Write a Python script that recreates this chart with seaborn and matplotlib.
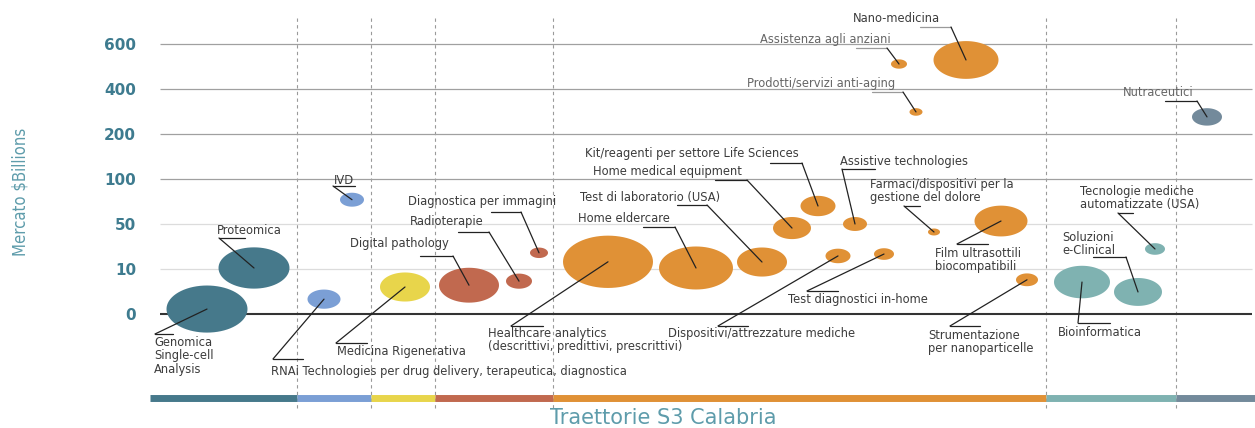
import numpy as np
import pandas as pd
import matplotlib
matplotlib.use("Agg")
import matplotlib.pyplot as plt
import matplotlib.transforms as mtransforms
from matplotlib.path import Path
from matplotlib.lines import Line2D
import seaborn as sns

# ---------------- data ----------------
nomi = ["Genomica", "Proteomica", "IVD", "RNAi", "Medicina Rigenerativa",
        "Digital pathology", "Radioterapie", "Diagnostica per immagini",
        "Healthcare analytics", "Home eldercare", "Test di laboratorio (USA)",
        "Home medical equipment", "Kit/reagenti", "Assistive technologies",
        "Farmaci/dispositivi dolore", "Film ultrasottili", "Dispositivi/attrezzature",
        "Test diagnostici in-home", "Strumentazione nanoparticelle", "Bioinformatica",
        "Soluzioni e-Clinical", "Tecnologie mediche automatizzate", "Nano-medicina",
        "Assistenza agli anziani", "Prodotti/servizi anti-aging", "Nutraceutici"]
posizione = [5.7, 10.4, 20.2, 17.4, 25.5, 31.9, 36.9, 38.9, 45.8, 54.6, 61.2, 64.2,
             66.8, 70.5, 78.4, 85.1, 68.8, 73.4, 87.7, 93.2, 98.8, 100.5, 81.6, 74.9,
             76.6, 105.7]
mercato = [1.1, 10.9, 77, 3.3, 6.0, 6.4, 7.3, 24.4, 16.4, 10.9, 16.2, 46.4, 70, 50,
           42.9, 53.3, 21.6, 23.3, 7.6, 7.1, 4.9, 27.8, 529, 511, 298, 276]
peso = [81, 71, 24, 33, 50, 60, 26, 18, 90, 74, 50, 38, 35, 24, 12, 53, 25, 20, 22,
        56, 48, 20, 65, 16, 13, 30]
traiettoria = ["T1", "T1", "T2", "T2", "T3", "T4", "T4", "T4", "T5", "T5", "T5", "T5",
               "T5", "T5", "T5", "T5", "T5", "T5", "T5", "T6", "T6", "T6", "T5", "T5",
               "T5", "T7"]

tick_valori = [0, 10, 50, 100, 200, 400, 600]
tick_etichette = ["0", "10", "50", "100", "200", "400", "600"]
traiettorie = ["T1", "T2", "T3", "T4", "T5", "T6", "T7"]
confini = [0, 14.7, 22.1, 28.5, 40.3, 89.6, 102.6, 110.5]
colori = {"T1": "#46798b", "T2": "#7b9fd5", "T3": "#e8d54b", "T4": "#c1694f",
          "T5": "#e09136", "T6": "#7fb2b1", "T7": "#738a9b"}

etichette = ["Genomica\nSingle-cell\nAnalysis", "Proteomica", "IVD",
             "RNAi Technologies per drug delivery, terapeutica, diagnostica",
             "Medicina Rigenerativa", "Digital pathology", "Radioterapie",
             "Diagnostica per immagini",
             "Healthcare analytics\n(descrittivi, predittivi, prescrittivi)",
             "Home eldercare", "Test di laboratorio (USA)", "Home medical equipment",
             "Kit/reagenti per settore Life Sciences", "Assistive technologies",
             "Farmaci/dispositivi per la\ngestione del dolore",
             "Film ultrasottili\nbiocompatibili", "Dispositivi/attrezzature mediche",
             "Test diagnostici in-home", "Strumentazione\nper nanoparticelle",
             "Bioinformatica", "Soluzioni\ne-Clinical",
             "Tecnologie mediche\nautomatizzate (USA)", "Nano-medicina",
             "Assistenza agli anziani", "Prodotti/servizi anti-aging", "Nutraceutici"]

# label layout (figure pixels, top-left origin): text pos, leader start, leader elbow
layout = [
    ((154, 356), (173, 334), (155, 334)),
    ((217, 231), (245, 238), (219, 238)),
    ((334, 181), (355, 186), (333, 186)),
    ((271, 372), (303, 359), (273, 359)),
    ((337, 351), (367, 343), (336, 343)),
    ((350, 244), (420, 256), (453, 256)),
    ((410, 222), (458, 232), (489, 232)),
    ((408, 202), (491, 212), (521, 212)),
    ((488, 340), (543, 326), (511, 326)),
    ((578, 219), (643, 227), (675, 227)),
    ((580, 197), (677, 205), (707, 205)),
    ((593, 172), (715, 180), (747, 180)),
    ((585, 154), (770, 163), (802, 163)),
    ((840, 161), (875, 169), (842, 169)),
    ((870, 191), (920, 206), (904, 206)),
    ((935, 260), (988, 244), (957, 244)),
    ((668, 333), (748, 326), (718, 326)),
    ((788, 300), (838, 291), (807, 291)),
    ((928, 342), (980, 326), (950, 326)),
    ((1058, 333), (1110, 323), (1078, 323)),
    ((1062, 244), (1093, 257), (1126, 257)),
    ((1080, 198), (1133, 213), (1118, 213)),
    ((853, 19), (920, 27), (951, 27)),
    ((760, 39), (856, 48), (887, 48)),
    ((747, 84), (872, 92), (903, 92)),
    ((1123, 93), (1165, 101), (1197, 101)),
]
grigi = {"Nano-medicina", "Assistenza agli anziani", "Prodotti/servizi anti-aging"}

df = pd.DataFrame({"nome": nomi, "x": posizione, "valore": mercato,
                   "area": np.array(peso, float) ** 2, "traiettoria": traiettoria})

# ---------------- figure ----------------
W, H, DPI = 1255, 428, 100
sns.set_theme(style="white")
plt.rcParams["font.family"] = ["DejaVu Sans"]
fig = plt.figure(figsize=(W / DPI, H / DPI), dpi=DPI)
ax = fig.add_axes([150 / W, (H - 410) / H, 1105 / W, 400 / H])

lv = np.arange(len(tick_valori), dtype=float)
tv = np.array(tick_valori, float)


def fwd(v):
    v = np.asarray(v, float)
    out = np.interp(v, tv, lv)
    out = np.where(v < 0, v / 10.0, out)
    out = np.where(v > tv[-1], lv[-1] + (v - tv[-1]) / 200.0, out)
    return out


def inv(l):
    l = np.asarray(l, float)
    out = np.interp(l, lv, tv)
    out = np.where(l < 0, l * 10.0, out)
    out = np.where(l > lv[-1], tv[-1] + (l - lv[-1]) * 200.0, out)
    return out


ax.set_yscale("function", functions=(fwd, inv))
ax.set_xlim(0, 110.5)
ax.set_ylim(float(inv(-2.1333)), float(inv(6.7556)))

# grid lines
grid_col = ["#333333", "#dcdcdc", "#dcdcdc", "#a0a0a0", "#a0a0a0", "#a0a0a0", "#a0a0a0"]
grid_lw = [1.5, 0.9, 0.9, 0.9, 0.9, 0.9, 0.9]
for v, c, lw in zip(tick_valori, grid_col, grid_lw):
    ax.hlines(v, 1.0, 110.2, color=c, lw=lw, zorder=1)

# dashed separators and colour bar
for b in confini[1:-1]:
    ax.axvline(b, ymin=0.005, ymax=0.9825, color="#9a9a9a", lw=0.8,
               ls=(0, (3, 3)), zorder=0.5)
xt = ax.get_xaxis_transform()
for t, a, b in zip(traiettorie, confini[:-1], confini[1:]):
    ax.plot([a, b], [0.029, 0.029], transform=xt, color=colori[t], lw=5.0,
            solid_capstyle="butt", zorder=2)

# bubbles (ellipses)
th = np.linspace(0, 2 * np.pi, 73)
ell = Path(np.column_stack([np.cos(th), np.sin(th) / 1.72]), closed=True)
amax = max(peso) ** 2
sns.scatterplot(data=df, x="x", y="valore", hue="traiettoria", palette=colori,
                size="area", sizes=(0, (0.72 * max(peso)) ** 2), size_norm=(0, amax),
                marker=ell, linewidth=0, edgecolor="none", alpha=1, legend=False,
                ax=ax, zorder=3)

ax.set_xticks([])
ax.set_yticks(tick_valori)
ax.set_yticklabels(tick_etichette)
ax.tick_params(axis="y", length=0, pad=10, labelsize=11, labelcolor="#3e7b8f")
for lab in ax.get_yticklabels():
    lab.set_fontweight("bold")
ax.set_xlabel("")
ax.set_ylabel("")
for s in ax.spines.values():
    s.set_visible(False)
ax.patch.set_alpha(0)

# annotations in figure pixels
pix = mtransforms.Affine2D().scale(1, -1).translate(0, H)
fig.canvas.draw()
for i, (nome, testo) in enumerate(zip(nomi, etichette)):
    (tx, ty), p0, p1 = layout[i]
    col = "#666666" if nome in ("Assistenza agli anziani", "Prodotti/servizi anti-aging",
                                "Nutraceutici") else "#3c3c3c"
    fig.text(tx, ty, testo, transform=pix, ha="left", va="center", fontsize=8.3,
             color=col, linespacing=1.05)
    bx, by = ax.transData.transform((df.x[i], df.valore[i]))
    by = H - by
    hcol = "#9a9a9a" if nome in grigi else "#222222"
    fig.add_artist(Line2D([p0[0], p1[0]], [p0[1], p1[1]], transform=pix, color=hcol,
                          lw=0.9, zorder=5))
    fig.add_artist(Line2D([p1[0], bx], [p1[1], by], transform=pix, color="#222222",
                          lw=0.9, zorder=5))

fig.text(21, 192, "Mercato $Billions", transform=pix, rotation=90, ha="center",
         va="center", fontsize=12, color="#5e9cab", fontstretch="condensed",
         family=["Liberation Sans Narrow", "DejaVu Sans"])
fig.text(663, 418, "Traettorie S3 Calabria", transform=pix, ha="center", va="center",
         fontsize=15, color="#5e9cab")

fig.savefig("out.png", dpi=DPI)
